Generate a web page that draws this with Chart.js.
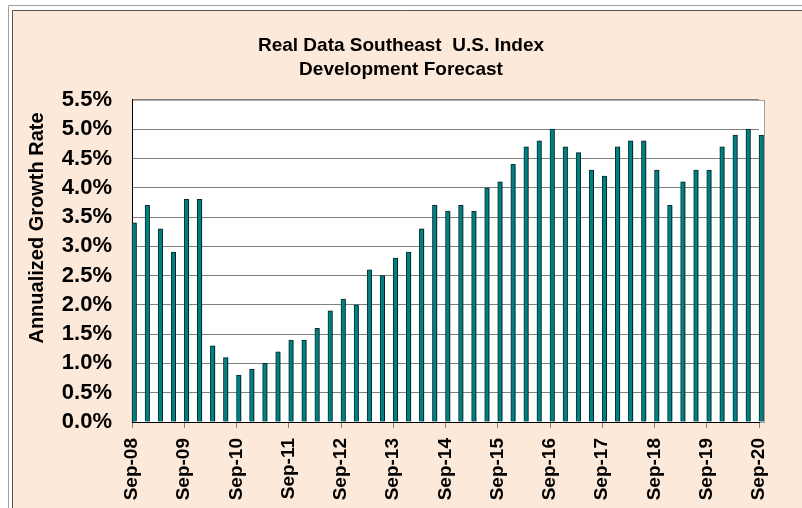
<!DOCTYPE html>
<html>
<head>
<meta charset="utf-8">
<script src="https://cdn.jsdelivr.net/npm/chart.js@4"></script>
<style>
  body { margin: 0; background: #fff; }
  #wrap { width: 802px; height: 508px; }
</style>
</head>
<body>
<div id="wrap"><canvas id="growthChart" width="802" height="508"></canvas></div>
<script>
// quarterly periods, Sep-08 .. Sep-20
const quarters = [
  'Sep-08','Dec-08','Mar-09','Jun-09','Sep-09','Dec-09','Mar-10','Jun-10',
  'Sep-10','Dec-10','Mar-11','Jun-11','Sep-11','Dec-11','Mar-12','Jun-12',
  'Sep-12','Dec-12','Mar-13','Jun-13','Sep-13','Dec-13','Mar-14','Jun-14',
  'Sep-14','Dec-14','Mar-15','Jun-15','Sep-15','Dec-15','Mar-16','Jun-16',
  'Sep-16','Dec-16','Mar-17','Jun-17','Sep-17','Dec-17','Mar-18','Jun-18',
  'Sep-18','Dec-18','Mar-19','Jun-19','Sep-19','Dec-19','Mar-20','Jun-20',
  'Sep-20'
];

// annualized growth rate, percent
const growthRate = [
  3.4, 3.7, 3.3, 2.9, 3.8, 3.8, 1.3, 1.1,
  0.8, 0.9, 1.0, 1.2, 1.4, 1.4, 1.6, 1.9,
  2.1, 2.0, 2.6, 2.5, 2.8, 2.9, 3.3, 3.7,
  3.6, 3.7, 3.6, 4.0, 4.1, 4.4, 4.7, 4.8,
  5.0, 4.7, 4.6, 4.3, 4.2, 4.7, 4.8, 4.8,
  4.3, 3.7, 4.1, 4.3, 4.3, 4.7, 4.9, 5.0,
  4.9
];

const yMin = 0, yMax = 5.5, yStep = 0.5;
const titleLines = ['Real Data Southeast  U.S. Index', 'Development Forecast'];
const yTitle = 'Annualized Growth Rate';

const FONT = 'Arial, "Liberation Sans", sans-serif';
const BAR_W = 4.5;

// page frame, peach panel and white plot box
const backdrop = {
  id: 'backdrop',
  beforeDraw(chart){
    const c = chart.ctx, a = chart.chartArea;
    c.save();
    c.fillStyle = '#fff';
    c.fillRect(0, 0, chart.width, chart.height);
    c.strokeStyle = '#a0a0a0'; c.lineWidth = 1;
    c.beginPath(); c.moveTo(8.5, chart.height); c.lineTo(8.5, 5.5); c.lineTo(chart.width, 5.5); c.stroke();
    c.fillStyle = '#FDE9D9';
    c.fillRect(12, 10, chart.width - 12, chart.height - 10);
    c.strokeStyle = '#555';
    c.beginPath(); c.moveTo(12.5, chart.height); c.lineTo(12.5, 10.5); c.lineTo(chart.width, 10.5); c.stroke();
    // plot box runs a few px past the last tick, like the excel original
    const right = a.right + BAR_W + 0.5;
    c.fillStyle = '#fff';
    c.fillRect(a.left, a.top, right - a.left, a.bottom - a.top);
    c.strokeStyle = '#a0a0a0';
    c.strokeRect(a.left + 0.5, a.top + 0.5, right - a.left, a.bottom - a.top);
    c.restore();
  },
  afterDraw(chart){
    const c = chart.ctx;
    c.save();
    c.font = 'bold 20px ' + FONT;
    c.fillStyle = '#000';
    c.textAlign = 'center';
    c.textBaseline = 'alphabetic';
    c.translate(43, 228);
    c.rotate(-Math.PI / 2);
    c.fillText(yTitle, 0, 0);
    c.restore();
  }
};

// bars sit to the right of their tick, not centred on it
const shiftBars = {
  id: 'shiftBars',
  beforeDatasetsDraw(chart){
    const c = chart.ctx;
    c.save();
    c.translate(BAR_W / 2, 0);
    c.shadowColor = 'rgba(0,0,0,0.3)';
    c.shadowOffsetX = 1.5;
    c.shadowOffsetY = 0;
    c.shadowBlur = 0;
  },
  afterDatasetsDraw(chart){ chart.ctx.restore(); }
};

new Chart(document.getElementById('growthChart'), {
  type: 'bar',
  data: {
    labels: quarters,
    datasets: [{
      data: growthRate,
      backgroundColor: '#008080',
      borderColor: '#003030',
      borderWidth: 1,
      borderSkipped: 'bottom',
      barThickness: BAR_W,
      clip: false
    }]
  },
  options: {
    responsive: false,
    animation: false,
    layout: { padding: { top: 10, right: 43, bottom: 0, left: 43 } },
    plugins: {
      legend: { display: false },
      tooltip: { enabled: false },
      title: {
        display: true,
        text: titleLines,
        color: '#000',
        font: { family: FONT, size: 19, weight: 'bold', lineHeight: 1.26 },
        padding: { top: 24, bottom: 18 }
      }
    },
    scales: {
      x: {
        offset: false,
        grid: {
          offset: false,
          drawOnChartArea: false,
          drawTicks: true,
          tickLength: 6,
          color: ctx => (ctx.index % 4 === 0 ? '#808080' : 'rgba(0,0,0,0)')
        },
        border: { color: '#000', width: 1 },
        ticks: {
          autoSkip: false,
          minRotation: 90,
          maxRotation: 90,
          padding: 10,
          color: '#000',
          font: { family: FONT, size: 19, weight: 'bold' },
          callback: (v, i) => (i % 4 === 0 ? quarters[i] : '')
        },
        afterFit: scale => { scale.height = 86; }
      },
      y: {
        min: yMin,
        max: yMax,
        grid: { color: '#808080', drawTicks: false },
        border: { color: '#000', width: 1 },
        ticks: {
          stepSize: yStep,
          autoSkip: false,
          padding: 20,
          color: '#000',
          font: { family: FONT, size: 22, weight: 'bold' },
          callback: v => v.toFixed(1) + '%'
        },
        afterFit: scale => { scale.width = 89; }
      }
    }
  },
  plugins: [backdrop, shiftBars]
});
</script>
</body>
</html>
